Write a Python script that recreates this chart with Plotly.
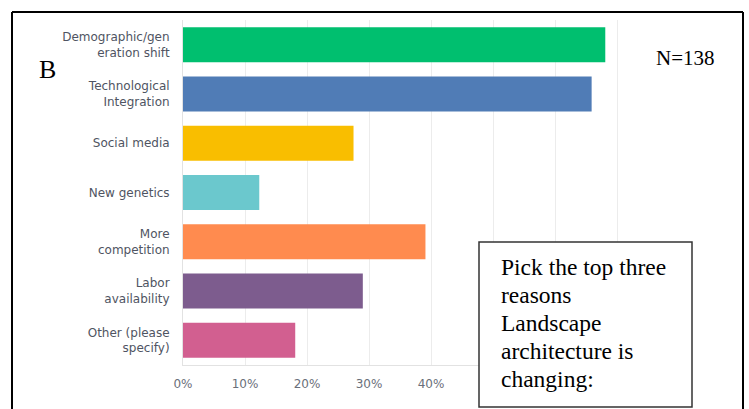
import plotly.graph_objects as go

# Survey responses: reasons landscape architecture is changing (share of respondents, %)
categories = [
    "Demographic/gen<br>eration shift",
    "Technological<br>Integration",
    "Social media",
    "New genetics",
    "More<br>competition",
    "Labor<br>availability",
    "Other (please<br>specify)",
]
shares = [68.1, 65.9, 27.5, 12.3, 39.1, 29.0, 18.1]
bar_colors = ["#00BF6F", "#507CB6", "#F9BE00", "#6BC8CD", "#FF8B4F", "#7D5C8E", "#D25F90"]
tick_values = [0, 10, 20, 30, 40, 50, 60, 70]
tick_text = ["0%", "10%", "20%", "30%", "40%", "50%", "60%", "70%"]
question_lines = ["Pick the top three", "reasons", "Landscape", "architecture is", "changing:"]

W, H = 749, 409
L, R, T, B = 183, 109, 20, 44
PW, PH = W - L - R, H - T - B


def px(x):
    return (x - L) / PW


def py(y):
    return 1 - (y - T) / PH


fig = go.Figure(
    go.Bar(
        y=categories,
        x=shares,
        orientation="h",
        marker=dict(color=bar_colors, line=dict(width=0)),
        hoverinfo="skip",
    )
)

fig.update_layout(
    width=W,
    height=H,
    margin=dict(l=L, r=R, t=T, b=B),
    paper_bgcolor="white",
    plot_bgcolor="white",
    bargap=0.29,
    showlegend=False,
    xaxis=dict(
        range=[0, 73.7],
        tickvals=tick_values,
        ticktext=tick_text,
        showgrid=True,
        gridcolor="#ececec",
        gridwidth=1,
        zeroline=False,
        showline=True,
        linecolor="#e2e2e2",
        linewidth=1,
        tickfont=dict(family="DejaVu Sans", size=12, color="#6a6f7a"),
        ticks="outside",
        ticklen=8,
        tickcolor="rgba(0,0,0,0)",
    ),
    yaxis=dict(
        autorange="reversed",
        showgrid=False,
        zeroline=False,
        showline=True,
        linecolor="#e2e2e2",
        linewidth=1,
        tickfont=dict(family="DejaVu Sans", size=12, color="#4f5462"),
        ticks="outside",
        ticklen=10,
        tickcolor="rgba(0,0,0,0)",
    ),
)

# Outer frame (left, top, right edges)
frame = dict(color="black", width=2)
for x0, y0, x1, y1 in [(12, 12, 12, 412), (12, 12, 743, 12), (743, 12, 743, 412)]:
    fig.add_shape(type="line", xref="paper", yref="paper",
                  x0=px(x0), y0=py(y0), x1=px(x1), y1=py(y1), line=frame)

# Question box
fig.add_shape(type="rect", xref="paper", yref="paper",
              x0=px(479), y0=py(242), x1=px(692), y1=py(407),
              line=dict(color="#333333", width=1.5), fillcolor="white")

serif = "Liberation Serif, Times New Roman, serif"
fig.add_annotation(xref="paper", yref="paper", x=px(47), y=py(69),
                   text="B", showarrow=False, xanchor="center", yanchor="middle",
                   font=dict(family=serif, size=26, color="black"))
fig.add_annotation(xref="paper", yref="paper", x=px(685), y=py(58),
                   text="N=138", showarrow=False, xanchor="center", yanchor="middle",
                   font=dict(family=serif, size=21, color="black"))

# Question text, one line per annotation for tight leading
for i, line in enumerate(question_lines):
    fig.add_annotation(xref="paper", yref="paper", x=px(499), y=py(267 + 28 * i),
                       text=line, showarrow=False, xanchor="left", yanchor="middle",
                       align="left", font=dict(family=serif, size=23.5, color="black"))

fig.write_html("out.html")
